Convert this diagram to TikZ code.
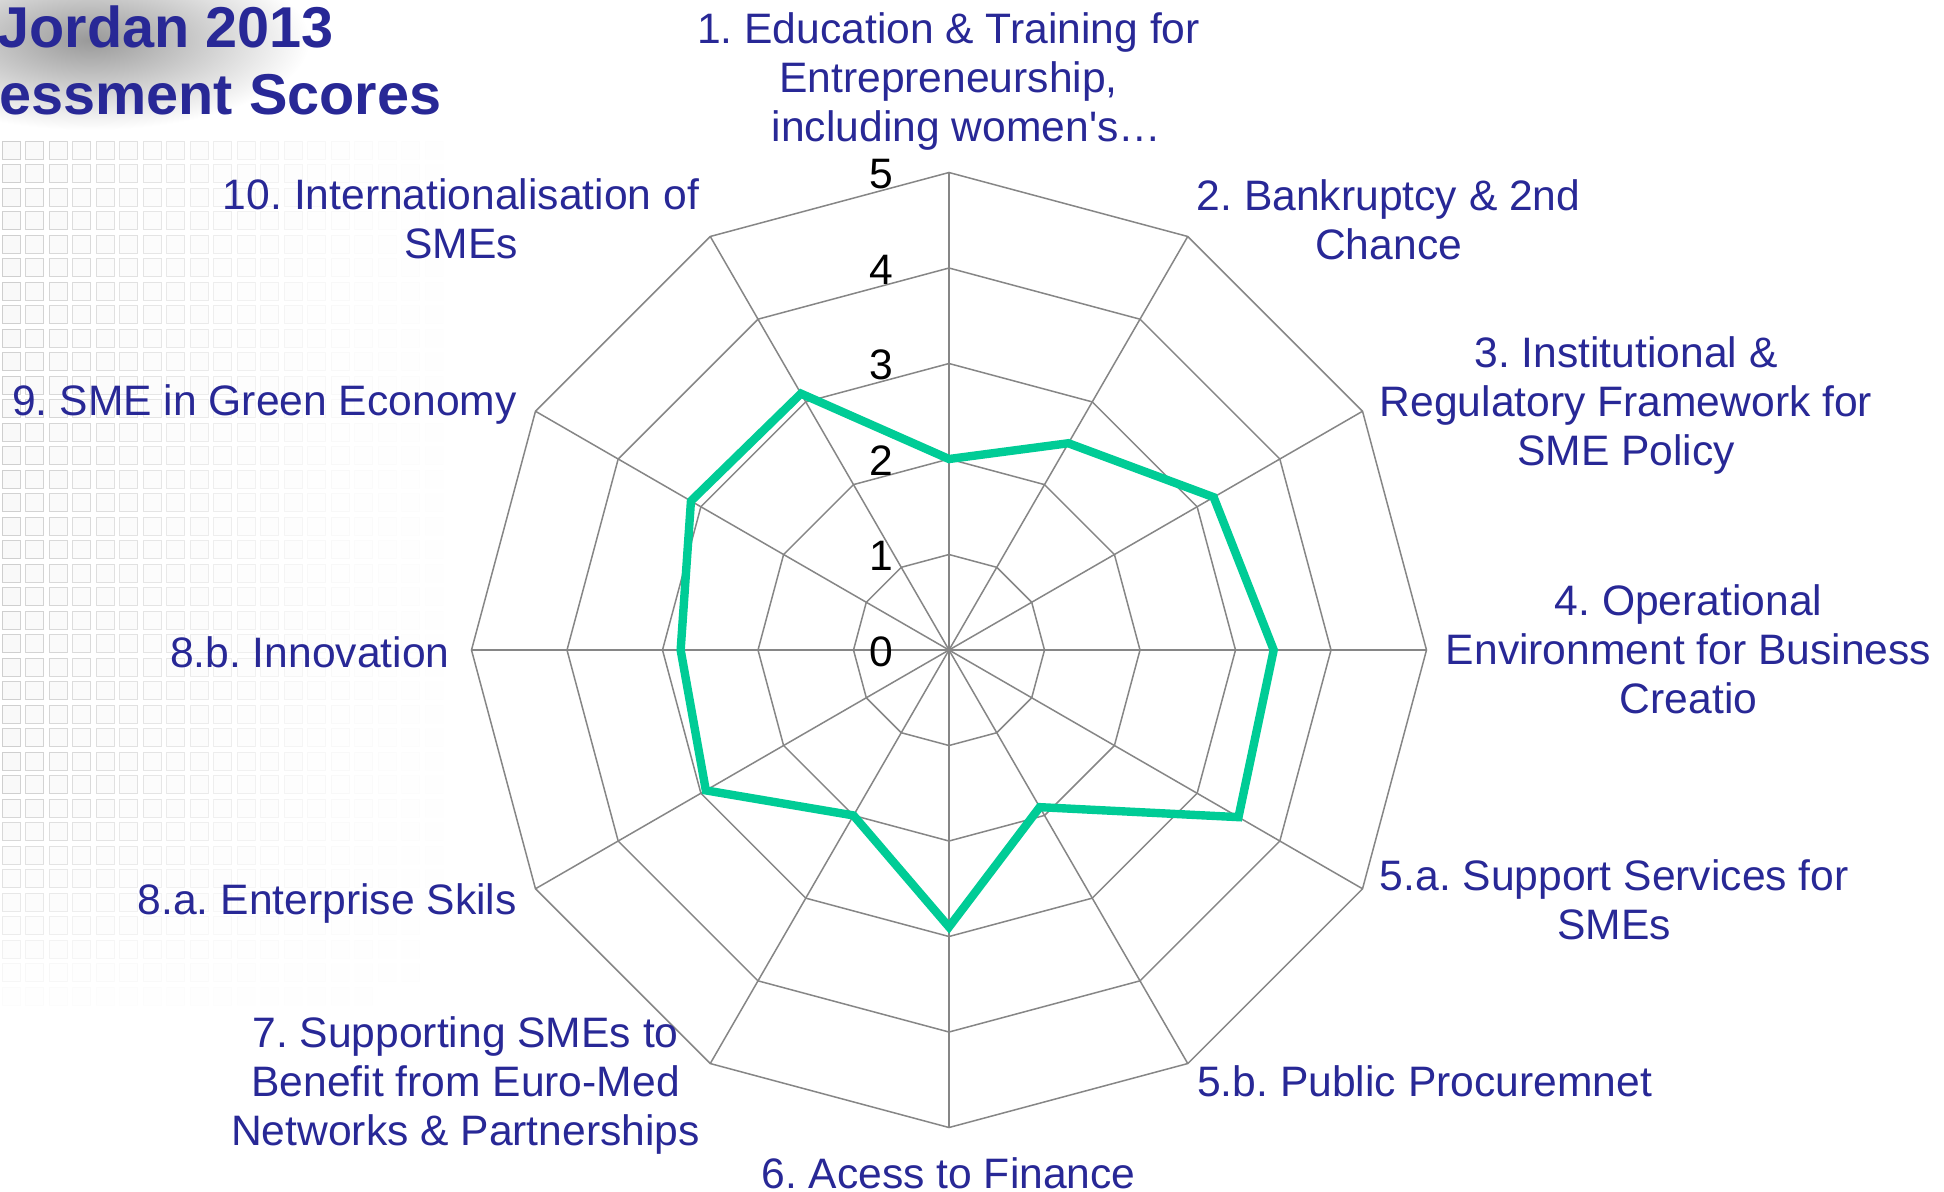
\documentclass[tikz,border=0pt]{standalone}
\usepackage{fontspec}
\setmainfont{Liberation Sans}[Ligatures=TeXOff]
\usetikzlibrary{calc}
\definecolor{lblblue}{RGB}{40,40,150}
\definecolor{seriesgreen}{RGB}{0,204,150}
\definecolor{gridgray}{RGB}{134,134,134}
\frenchspacing
\begin{document}
\begin{tikzpicture}[x=0.5pt,y=-0.5pt,
  lbl/.style={text=lblblue, font=\fontsize{21.3}{24.5}\selectfont, align=center, inner sep=0pt},
  ticklbl/.style={text=black, font=\fontsize{21.3}{24.5}\selectfont, inner sep=0pt, anchor=east},
  titletext/.style={text=lblblue, font=\bfseries\fontsize{28.8}{33}\selectfont, inner sep=0pt, anchor=base west},
  ring/.style={draw=gridgray, line width=0.75pt},
  series/.style={draw=seriesgreen, line width=4.2pt, line join=miter},
  bgsq/.style={draw=black!35, fill=black!4, line width=0.5pt}]
\useasboundingbox (0,0) rectangle (1944,1191);
\fill[white] (0,0) rectangle (1944,1191);
% background texture
\begin{scope}
\clip (0,0) rectangle (1944,1191);
\shade[inner color=black!40, outer color=white] (90,40) ellipse [x radius=220, y radius=90];
\foreach \i in {0,...,18}{
  \foreach \j in {6,...,42}{
    \pgfmathsetmacro{\base}{max(0.001,1-\i/19)}
    \pgfmathsetmacro{\op}{0.5*(\base)^1.6*min(1,max(0,(1000-\j*23.5)/220))}
    \draw[bgsq, opacity=\op] ({\i*23.5+2},{\j*23.5}) rectangle ++(18,18);
  }
}
\end{scope}
% title
\node[titletext] (title1) at (-3,47) {Jordan 2013};
\node[titletext] (title2) at (-1,114) {essment Scores};
% radar grid
\begin{scope}[shift={(949,650)}]
  \foreach \k in {0,...,11}{
    \draw[ring] (0,0) -- ({30*\k-90}:477.5);
  }
  \foreach \r in {1,...,5}{
    \draw[ring] (-90:{\r*95.5}) \foreach \k in {1,...,11}{ -- ({30*\k-90}:{\r*95.5}) } -- cycle;
  }
  \draw[series] (-90:{2.0*95.5}) -- (-60:{2.5*95.5}) -- (-30:{3.2*95.5}) -- (0:{3.4*95.5})
     -- (30:{3.5*95.5}) -- (60:{1.9*95.5}) -- (90:{2.9*95.5}) -- (120:{2.0*95.5})
     -- (150:{2.94*95.5}) -- (180:{2.81*95.5}) -- (210:{3.12*95.5}) -- (240:{3.1*95.5}) -- cycle;
\end{scope}
% tick labels
\node[ticklbl] (t5) at (894,174) {5};
\node[ticklbl] (t4) at (894,269.5) {4};
\node[ticklbl] (t3) at (894,365) {3};
\node[ticklbl] (t2) at (894,460.5) {2};
\node[ticklbl] (t1) at (894,556) {1};
\node[ticklbl] (t0) at (894,651.5) {0};
% axis labels
\node[lbl] (l1) at (948.5,81) {1. Education \& Training for\\Entrepreneurship,\\\hspace*{18pt}including women's…};
\node[lbl] (l2) at (1388.6,219.5) {2. Bankruptcy \& 2nd\\Chance};
\node[lbl] (l3) at (1626,405) {3. Institutional \&\\Regulatory Framework for\\SME Policy};
\node[lbl] (l4) at (1688.6,649.5) {4. Operational\\Environment for Business\\Creatio};
\node[lbl] (l5a) at (1614.2,899.5) {5.a. Support Services for\\SMEs};
\node[lbl] (l5b) at (1424.6,1081.5) {5.b. Public Procuremnet};
\node[lbl] (l6) at (948.5,1173) {6. Acess to Finance};
\node[lbl] (l7) at (465.5,1085) {7. Supporting SMEs to\\Benefit from Euro-Med\\Networks \& Partnerships};
\node[lbl, anchor=east] (l8a) at (517,903.5) {8.a. Enterprise Skils};
\node[lbl, anchor=east] (l8b) at (450,652) {8.b. Innovation};
\node[lbl, anchor=east] (l9) at (517,404.5) {9. SME in Green Economy};
\node[lbl] (l10) at (461,218.5) {10. Internationalisation of\\SMEs};
\end{tikzpicture}
\end{document}
